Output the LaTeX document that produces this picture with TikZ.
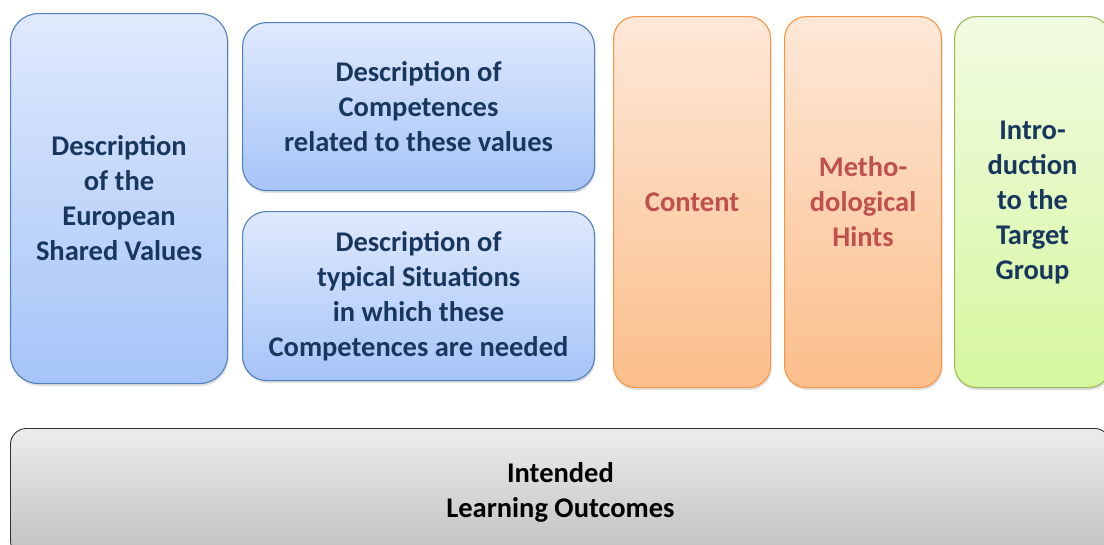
\documentclass[tikz,border=0pt]{standalone}
\usepackage{fontspec}
\setmainfont{Carlito}
\usetikzlibrary{positioning,shadows}
\definecolor{navytext}{HTML}{17375E}
\definecolor{redtext}{HTML}{C0504D}
\tikzset{box/.style={shape=rectangle, draw, anchor=north west, align=center,
    rounded corners=24pt, line width=1.1pt, inner sep=0pt,
    font=\bfseries\fontsize{28.5}{35}\selectfont,
    drop shadow={opacity=.25, shadow xshift=1pt, shadow yshift=-2.5pt}}}
\tikzset{bluebox/.style={box, draw={rgb,255:red,79;green,129;blue,189},
    top color={rgb,255:red,223;green,233;blue,252}, bottom color={rgb,255:red,166;green,196;blue,248},
    text=navytext}}
\tikzset{orangebox/.style={box, draw={rgb,255:red,247;green,150;blue,70},
    top color={rgb,255:red,253;green,232;blue,216}, bottom color={rgb,255:red,251;green,190;blue,138},
    text=redtext, rounded corners=22pt}}
\tikzset{greenbox/.style={box, draw={rgb,255:red,155;green,187;blue,89},
    top color={rgb,255:red,241;green,251;blue,226}, bottom color={rgb,255:red,214;green,247;blue,158},
    text=navytext, rounded corners=22pt}}
\tikzset{graybox/.style={box, draw={rgb,255:red,50;green,50;blue,50}, line width=.9pt,
    top color={rgb,255:red,236;green,236;blue,236}, bottom color={rgb,255:red,192;green,192;blue,192},
    text=black, rounded corners=16pt}}

\begin{document}
\begin{tikzpicture}[x=1pt, y=-1pt]
  \useasboundingbox (0,0) rectangle (1104,544);
  % left column
  \node[bluebox, minimum width=217pt, minimum height=370pt, rounded corners=28pt] (values) at (10,13)
    {Description\\of the\\European\\Shared Values};
  % competences and situations
  \node[bluebox, minimum width=352pt, minimum height=168pt] (competences) at (242,22)
    {Description of\\Competences\\related to these values};
  \node[bluebox, minimum width=352pt, minimum height=169pt] (situations) at (242,211)
    {Description of\\typical Situations\\in which these\\Competences are needed};
  % right columns
  \node[orangebox, minimum width=157pt, minimum height=371pt] (content) at (613,16) {Content};
  \node[orangebox, minimum width=157pt, minimum height=371pt] (hints) at (784,16)
    {Metho-\\dological\\Hints};
  \node[greenbox, minimum width=156pt, minimum height=371pt] (target) at (954,16)
    {Intro-\\duction\\to the\\Target\\Group};
  % bottom bar
  \node[graybox, minimum width=1100pt, minimum height=128pt] (outcomes) at (10,428)
    {Intended\\Learning Outcomes};
\end{tikzpicture}
\end{document}
